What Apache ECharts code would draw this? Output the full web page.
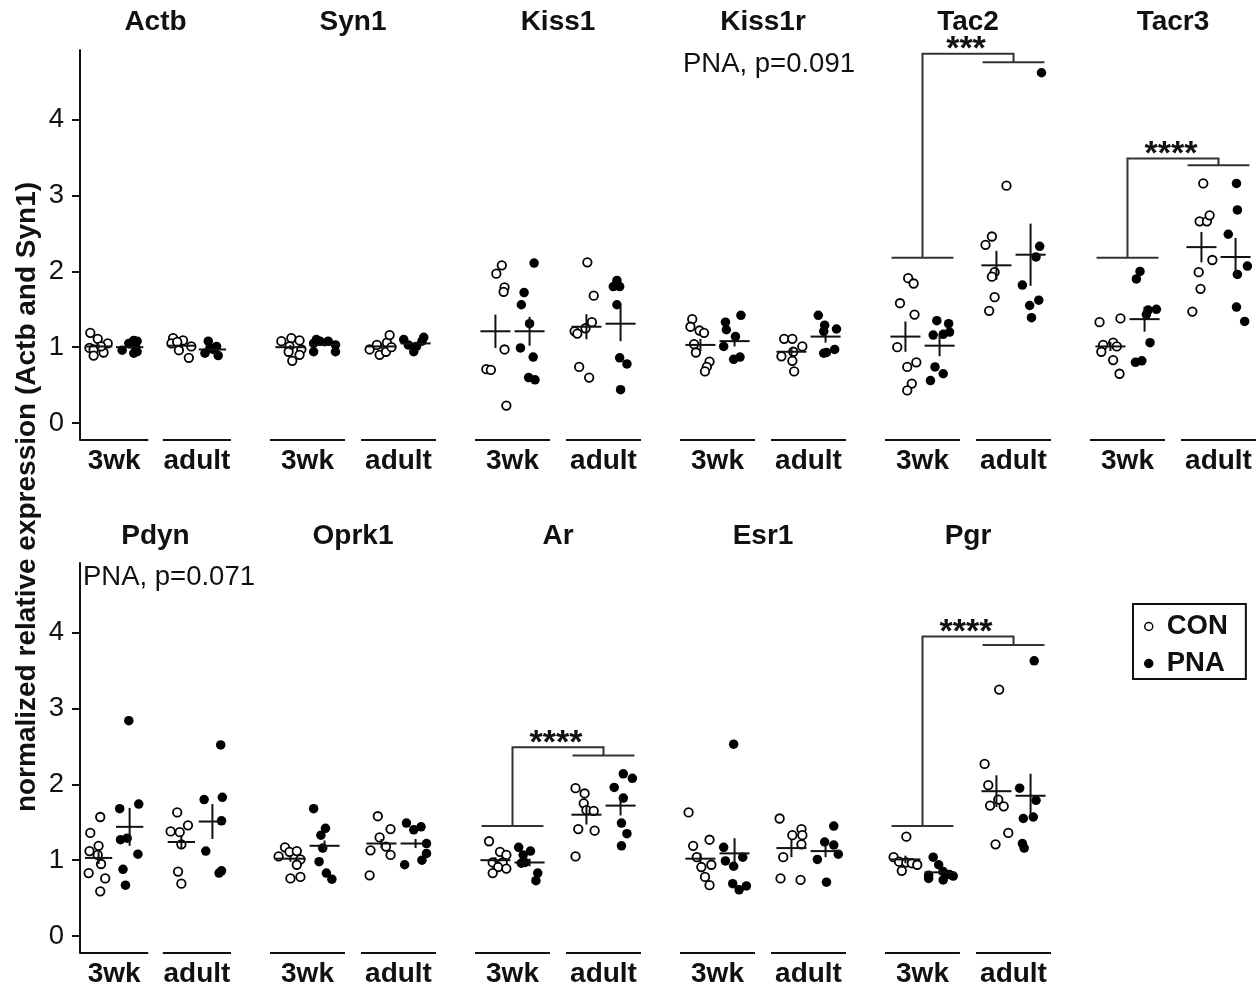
<!DOCTYPE html>
<html><head><meta charset="utf-8">
<script src="https://cdn.jsdelivr.net/npm/echarts@6/dist/echarts.min.js"></script>
<style>html,body{margin:0;padding:0;background:#fff}#c{width:1260px;height:989px}</style>
</head><body><div id="c"></div>
<script>
// ---------------- data ----------------
const genes = ['Actb','Syn1','Kiss1','Kiss1r','Tac2','Tacr3','Pdyn','Oprk1','Ar','Esr1','Pgr'];
const ages = ['3wk','adult'];
const treatments = ['CON','PNA'];
const yTicks = [0,1,2,3,4];
const yTitle = 'normalized relative expression (Actb and Syn1)';

// groups order in each gene: [3wk CON, 3wk PNA, adult CON, adult PNA]
const Actb_values = [[1.19,1.11,1.05,0.99,0.97,0.93,0.89,1.01],[0.96,1.09,1.08,1.01,0.94,0.92,1.05],[1.12,1.09,1.05,0.96,1.01,0.86,1.07],[1.08,0.99,0.92,1.01,0.89,0.97]];
const Actb_jitter = [[-0.10,-0.01,0.11,-0.11,-0.06,0.06,-0.06,0.03],[-0.09,0.05,0.09,0.07,0.09,0.05,-0.01],[-0.10,0.02,-0.12,-0.03,0.12,0.09,-0.05],[-0.05,-0.03,-0.09,0.05,0.07,0.01]];
const Syn1_values = [[1.08,1.12,1.09,1.01,0.94,0.97,0.90,0.82],[1.05,1.10,1.08,1.08,1.03,0.94,0.94],[0.97,1.03,0.90,0.94,1.06,1.16,1.00],[1.10,1.03,0.94,1.01,1.13,1.08]];
const Syn1_jitter = [[-0.10,0.01,0.10,-0.01,-0.02,0.12,0.10,0.02],[-0.12,-0.09,-0.05,0.04,0.12,0.12,-0.12],[-0.13,-0.05,-0.02,0.05,0.06,0.09,0.11],[-0.13,-0.08,-0.02,0.01,0.09,0.07]];
const Kiss1_values = [[2.08,1.97,1.79,1.73,0.97,0.71,0.70,0.23],[2.11,1.72,1.56,1.31,0.99,0.87,0.60,0.57],[2.12,1.68,1.33,1.25,1.21,1.18,0.74,0.60],[1.88,1.80,1.80,1.56,0.86,0.78,0.44]];
const Kiss1_jitter = [[0.07,0.01,0.10,0.09,0.10,-0.10,-0.05,0.12],[0.05,-0.06,-0.09,0.00,-0.10,0.04,-0.01,0.06],[0.01,0.08,0.06,-0.01,-0.13,-0.10,-0.08,0.03],[-0.04,-0.08,-0.01,-0.04,-0.01,0.07,0.00]];
const Kiss1r_values = [[1.37,1.27,1.22,1.19,1.04,0.93,0.81,0.74,0.68],[1.42,1.33,1.23,1.14,1.01,0.84,0.87],[1.11,1.11,1.01,0.94,0.88,0.82,0.68],[1.42,1.29,1.24,1.21,0.93,0.97,0.92]];
const Kiss1r_jitter = [[-0.09,-0.11,-0.01,0.04,-0.07,-0.05,0.10,0.07,0.05],[0.07,-0.10,-0.09,0.01,-0.12,-0.01,0.06],[-0.08,0.01,0.12,0.02,-0.11,0.01,0.03],[-0.08,-0.01,0.12,-0.02,0.01,0.10,-0.02]];
const Tac2_values = [[1.91,1.84,1.58,1.43,1.00,0.80,0.74,0.52,0.43],[1.35,1.31,1.16,1.17,1.20,0.74,0.65,0.56],[3.13,2.46,2.35,1.99,1.93,1.66,1.48],[4.62,2.33,2.19,1.82,1.62,1.55,1.39]];
const Tac2_jitter = [[0.03,0.09,-0.06,0.10,-0.09,0.12,0.02,0.07,0.02],[-0.03,0.10,-0.07,0.04,0.11,-0.05,0.04,-0.10],[0.11,-0.05,-0.12,-0.02,-0.05,-0.02,-0.08],[0.12,0.10,0.06,-0.09,0.09,-0.01,0.01]];
const Tacr3_values = [[1.33,1.38,1.03,1.06,1.01,0.94,0.83,0.65],[2.00,1.90,1.49,1.50,1.43,1.06,0.80,0.82],[3.16,2.66,2.66,2.74,2.15,1.99,1.77,1.47],[3.16,2.81,2.49,2.07,1.96,1.53,1.34]];
const Tacr3_jitter = [[-0.12,0.11,-0.08,0.03,0.07,-0.10,0.03,0.10],[-0.05,-0.09,0.04,0.13,0.02,0.06,-0.10,-0.03],[0.02,-0.02,0.06,0.09,0.12,-0.03,-0.01,-0.10],[0.01,0.02,-0.08,0.13,0.02,0.01,0.10]];
const Pdyn_values = [[1.57,1.36,1.19,1.12,1.07,0.95,0.83,0.76,0.59],[2.84,1.74,1.68,1.29,1.27,1.08,0.88,0.67],[1.63,1.38,1.37,1.46,1.21,0.85,0.69],[2.52,1.83,1.80,1.52,1.12,0.86,0.83]];
const Pdyn_jitter = [[0.02,-0.10,0.00,-0.11,-0.01,0.03,-0.12,0.08,0.02],[-0.01,0.11,-0.12,-0.03,-0.11,0.10,-0.08,-0.05],[-0.05,-0.13,-0.02,0.08,0.00,-0.04,0.00],[0.10,0.12,-0.10,0.11,-0.08,0.11,0.08]];
const Oprk1_values = [[1.05,1.17,1.11,1.12,1.01,0.94,0.76,0.78],[1.68,1.42,1.33,1.16,0.98,0.83,0.75],[1.58,1.41,1.30,1.13,1.18,1.07,0.80],[1.49,1.40,1.44,1.22,1.09,1.00,0.94]];
const Oprk1_jitter = [[-0.13,-0.06,-0.01,0.07,0.11,0.07,0.00,0.11],[-0.12,0.01,-0.04,-0.02,-0.06,0.02,0.08],[-0.04,0.10,-0.02,-0.12,0.05,0.10,-0.13],[-0.10,-0.02,0.06,0.12,0.12,0.07,-0.12]];
const Ar_values = [[1.25,1.11,1.07,0.97,0.97,0.91,0.89,0.83],[1.17,1.12,1.07,0.97,0.96,0.83,0.73],[1.95,1.88,1.75,1.66,1.65,1.41,1.39,1.05],[2.14,2.08,1.96,1.82,1.49,1.35,1.19]];
const Ar_jitter = [[-0.07,0.05,0.12,-0.03,0.08,0.03,0.12,-0.03],[-0.12,0.01,-0.07,-0.05,-0.09,0.09,0.07],[-0.12,-0.02,-0.03,0.00,0.08,-0.09,0.09,-0.12],[0.03,0.13,-0.07,0.03,0.01,0.07,0.01]];
const Esr1_values = [[1.63,1.27,1.19,1.04,0.91,0.94,0.78,0.67],[2.53,1.17,0.99,1.04,0.92,0.69,0.61,0.66],[1.55,1.41,1.33,1.33,1.21,1.04,0.76,0.74],[1.45,1.24,1.20,1.08,1.01,0.71]];
const Esr1_jitter = [[-0.13,0.10,-0.08,-0.04,0.01,0.12,0.05,0.10],[-0.01,-0.12,-0.10,0.09,-0.01,-0.02,0.05,0.13],[-0.13,0.11,0.01,0.12,0.11,-0.09,-0.12,0.10],[0.09,-0.01,0.09,0.14,-0.09,0.01]];
const Pgr_values = [[1.31,1.04,0.98,0.97,0.96,0.94,0.86],[1.04,0.94,0.80,0.76,0.85,0.74,0.81,0.79],[3.25,2.27,1.99,1.80,1.72,1.71,1.36,1.21],[3.63,1.95,1.79,1.55,1.57,1.22,1.16]];
const Pgr_jitter = [[0.01,-0.13,-0.07,0.01,0.07,0.13,-0.04],[-0.07,-0.01,-0.12,-0.12,0.04,0.04,0.11,0.15],[0.03,-0.13,-0.09,0.02,-0.07,0.08,0.13,-0.01],[0.04,-0.12,0.06,-0.08,0.03,-0.09,-0.07]];

const allValues = [Actb_values,Syn1_values,Kiss1_values,Kiss1r_values,Tac2_values,Tacr3_values,Pdyn_values,Oprk1_values,Ar_values,Esr1_values,Pgr_values];
const allJitter = [Actb_jitter,Syn1_jitter,Kiss1_jitter,Kiss1r_jitter,Tac2_jitter,Tacr3_jitter,Pdyn_jitter,Oprk1_jitter,Ar_jitter,Esr1_jitter,Pgr_jitter];

// group means and SEM [3wk CON, 3wk PNA, adult CON, adult PNA]
const means = [[1.01,1.00,1.02,0.97],[1.00,1.03,1.01,1.05],[1.21,1.21,1.27,1.31],[1.03,1.08,0.94,1.14],[1.14,1.02,2.08,2.22],[1.01,1.37,2.32,2.19],[1.03,1.44,1.24,1.51],[1.02,1.19,1.22,1.22],[1.00,0.97,1.60,1.72],[1.02,1.09,1.16,1.12],[1.01,0.84,1.91,1.85]];
const sems = [[0.03,0.02,0.03,0.02],[0.03,0.02,0.03,0.02],[0.22,0.19,0.165,0.23],[0.08,0.07,0.05,0.08],[0.20,0.14,0.19,0.41],[0.06,0.165,0.20,0.25],[0.08,0.25,0.09,0.23],[0.04,0.07,0.06,0.06],[0.04,0.05,0.13,0.13],[0.07,0.20,0.12,0.08],[0.05,0.03,0.21,0.29]];

// significance brackets (age effect)
const sigGenes = ['Tac2','Tacr3','Ar','Pgr'];
const sigLow   = [2.18, 2.18, 1.45, 1.45];
const sigTop   = [4.87, 3.49, 2.49, 3.95];
const sigHigh  = [4.76, 3.40, 2.38, 3.84];
const sigLabel = ['***','****','****','****'];

// annotations
const noteGenes = ['Kiss1r','Pdyn'];
const noteTexts = ['PNA, p=0.091','PNA, p=0.071'];

// ---------------- layout / style ----------------
const FONT = '"Liberation Sans", Arial, Helvetica, sans-serif';
const INK = '#111';
const yMin = -0.224, yMax = 4.92;
const rowTop = [50, 563], gridH = 390;
const titleY = [22, 536];
const panelLeft  = [80,270,475,680,885,1090,80,270,475,680,885];
const panelWidth = [151,166,166,166,166,166,151,166,166,166,166];
const rowOf = i => (i < 6 ? 0 : 1);
const HALF = 0.412, DODGE = 0.1875, MEAN_HALF = 0.165, SIG_HALF = 0.34;

const grid = [], xAxis = [], yAxis = [], series = [], graphic = [];

genes.forEach((g, i) => {
  const r = rowOf(i);
  const first = (i === 0 || i === 6);
  grid.push({left: panelLeft[i], top: rowTop[r], width: panelWidth[i], height: gridH});
  xAxis.push({
    gridIndex: i, type: 'value', min: 1 - HALF, max: 2 + HALF,
    splitLine: {show: false}, axisLine: {show: false, onZero: false}, axisTick: {show: false},
    axisLabel: {customValues: [1, 2], formatter: v => ages[Math.round(v) - 1],
      color: INK, fontFamily: FONT, fontWeight: 'bold', fontSize: 28, margin: 7}
  });
  yAxis.push({
    gridIndex: i, type: 'value', min: yMin, max: yMax, show: first,
    splitLine: {show: false},
    axisLine: {show: true, onZero: false, lineStyle: {color: INK, width: 2}},
    axisTick: {show: true, customValues: yTicks, length: 8, lineStyle: {color: INK, width: 2}},
    axisLabel: {customValues: yTicks, color: INK, fontFamily: FONT, fontSize: 27.5, margin: 16}
  });

  // points
  treatments.forEach((t, ti) => {
    const data = [];
    ages.forEach((a, k) => {
      const gi = k * 2 + ti;
      const center = k + 1 + (ti === 0 ? -DODGE : DODGE);
      allValues[i][gi].forEach((v, j) => data.push([center + allJitter[i][gi][j], v]));
    });
    series.push({
      name: t, type: 'scatter', xAxisIndex: i, yAxisIndex: i, data,
      symbol: 'circle', symbolSize: ti === 0 ? 8.5 : 9.5, z: 3, clip: false,
      itemStyle: ti === 0 ? {color: '#fff', borderColor: '#000', borderWidth: 1.8, opacity: 1}
                          : {color: '#000', borderColor: '#000', borderWidth: 0, opacity: 1}
    });
  });

  // mean +/- SEM crosses
  const crossData = [];
  ages.forEach((a, k) => treatments.forEach((t, ti) => {
    const gi = k * 2 + ti;
    crossData.push([k + 1 + (ti === 0 ? -DODGE : DODGE), means[i][gi], sems[i][gi]]);
  }));
  series.push({
    type: 'custom', xAxisIndex: i, yAxisIndex: i, data: crossData, z: 4,
    encode: {x: 0, y: 1},
    renderItem: (params, api) => {
      const x = api.value(0), m = api.value(1), s = api.value(2);
      const a = api.coord([x - MEAN_HALF, m]), b = api.coord([x + MEAN_HALF, m]);
      const c = api.coord([x, m - s]), d = api.coord([x, m + s]);
      const st = {stroke: INK, lineWidth: 2};
      return {type: 'group', children: [
        {type: 'line', shape: {x1: a[0], y1: a[1], x2: b[0], y2: b[1]}, style: st},
        {type: 'line', shape: {x1: c[0], y1: c[1], x2: d[0], y2: d[1]}, style: st}
      ]};
    }
  });

  // x-axis segments under each age group
  series.push({
    type: 'custom', xAxisIndex: i, yAxisIndex: i, z: 2,
    data: ages.map((a, k) => [k + 1, yMin]), encode: {x: 0, y: 1},
    renderItem: (params, api) => {
      const c = api.value(0);
      const p = api.coord([c - HALF, yMin]), q = api.coord([c + HALF, yMin]);
      return {type: 'line', shape: {x1: p[0], y1: p[1], x2: q[0], y2: q[1]}, style: {stroke: INK, lineWidth: 2.2}};
    }
  });

  // significance bracket
  const si = sigGenes.indexOf(g);
  if (si >= 0) {
    series.push({
      type: 'custom', xAxisIndex: i, yAxisIndex: i, z: 2,
      data: [[1.5, sigTop[si], sigLow[si], sigHigh[si]]], encode: {x: 0, y: 1},
      renderItem: (params, api) => {
        const top = api.value(1), low = api.value(2), high = api.value(3);
        const st = {stroke: '#333', lineWidth: 2, fill: null};
        const l1 = api.coord([1 - SIG_HALF, low]), l2 = api.coord([1 + SIG_HALF, low]);
        const h1 = api.coord([2 - SIG_HALF, high]), h2 = api.coord([2 + SIG_HALF, high]);
        const c0 = api.coord([1, low]), c1 = api.coord([1, top]), c2 = api.coord([2, top]), c3 = api.coord([2, high]);
        const mid = api.coord([1.5, top]);
        return {type: 'group', children: [
          {type: 'line', shape: {x1: l1[0], y1: l1[1], x2: l2[0], y2: l2[1]}, style: st},
          {type: 'line', shape: {x1: h1[0], y1: h1[1], x2: h2[0], y2: h2[1]}, style: st},
          {type: 'polyline', shape: {points: [c0, c1, c2, c3]}, style: st},
          {type: 'text', x: mid[0] - 2, y: mid[1] - 4, style: {text: sigLabel[si], align: 'center', verticalAlign: 'middle',
            fontFamily: FONT, fontWeight: 'bold', fontSize: 34, fill: INK}}
        ]};
      }
    });
  }

  // panel title
  graphic.push({type: 'text', x: panelLeft[i] + panelWidth[i] / 2, y: titleY[r],
    style: {text: g, align: 'center', verticalAlign: 'middle', fontFamily: FONT, fontWeight: 'bold', fontSize: 28, fill: INK}});

  const ni = noteGenes.indexOf(g);
  if (ni >= 0) {
    graphic.push({type: 'text', x: panelLeft[i] + 3, y: rowTop[r] + 14,
      style: {text: noteTexts[ni], align: 'left', verticalAlign: 'middle', fontFamily: FONT, fontSize: 27.5, fill: INK}});
  }
});

graphic.push({type: 'text', x: 27, y: 497, rotation: Math.PI / 2,
  style: {text: yTitle, align: 'center', verticalAlign: 'middle', fontFamily: FONT, fontWeight: 'bold', fontSize: 28, fill: INK}});

const chart = echarts.init(document.getElementById('c'), null, {renderer: 'canvas'});
chart.setOption({
  animation: false,
  backgroundColor: '#fff',
  grid, xAxis, yAxis, series, graphic,
  legend: {
    data: treatments, orient: 'vertical', left: 1133, top: 604,
    itemWidth: 26, itemHeight: 8, itemGap: 8, selectedMode: false,
    padding: [8, 18, 1, 11],
    borderColor: INK, borderWidth: 2, borderRadius: 0,
    itemStyle: {borderWidth: 1.5},
    textStyle: {fontFamily: FONT, fontWeight: 'bold', fontSize: 27.5, color: INK, lineHeight: 29}
  }
});
</script></body></html>
